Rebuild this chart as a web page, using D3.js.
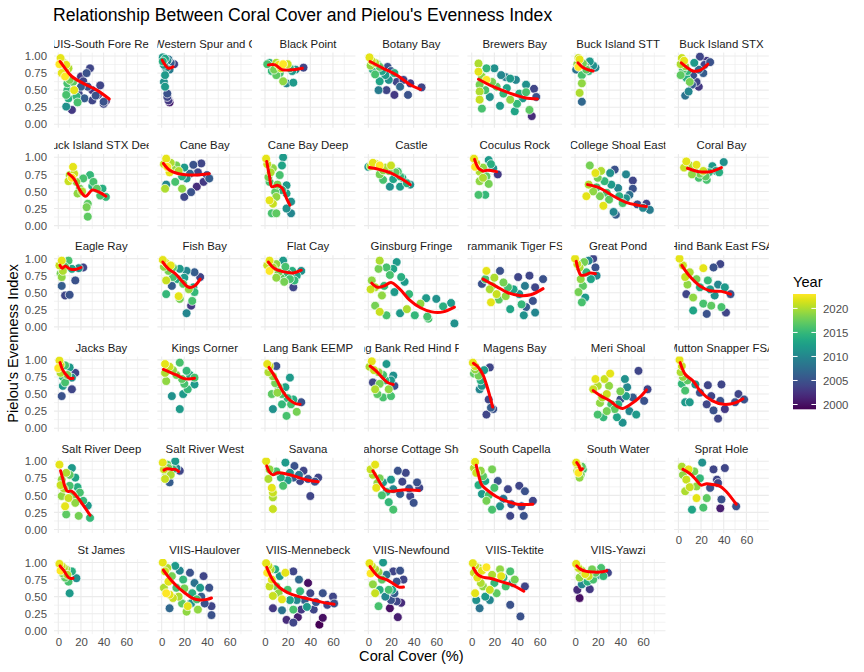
<!DOCTYPE html>
<html>
<head>
<meta charset="utf-8">
<script src="https://cdn.jsdelivr.net/npm/d3@7"></script>
<style>
body { margin: 0; background: #fff; }
text { font-family: "Liberation Sans", Arial, Helvetica, sans-serif; }
</style>
</head>
<body>
<div id="chart"></div>
<script>
// facet names, in the order the panels are laid out
var sites = ["BUIS-South Fore Reef", "BUIS-Western Spur and Groove", "Black Point", "Botany Bay", "Brewers Bay",
  "Buck Island STT", "Buck Island STX", "Buck Island STX Deep", "Cane Bay", "Cane Bay Deep", "Castle",
  "Coculus Rock", "College Shoal East", "Coral Bay", "Eagle Ray", "Fish Bay", "Flat Cay", "Ginsburg Fringe",
  "Grammanik Tiger FSA", "Great Pond", "Hind Bank East FSA", "Jacks Bay", "Kings Corner", "Lang Bank EEMP",
  "Lang Bank Red Hind FSA", "Magens Bay", "Meri Shoal", "Mutton Snapper FSA", "Salt River Deep",
  "Salt River West", "Savana", "Seahorse Cottage Shoal", "South Capella", "South Water", "Sprat Hole",
  "St James", "VIIS-Haulover", "VIIS-Mennebeck", "VIIS-Newfound", "VIIS-Tektite", "VIIS-Yawzi"];

// observations per site: [coral cover %, evenness, year]
var obs = [
  [[2,0.97,2022],[3,0.93,2021],[5,0.9,2020],[1,0.88,2023],[4,0.85,2019],[7,0.87,2022],[9,0.82,2020],[6,0.78,2021],[3,0.75,2022],[6,0.7,2023],[10,0.65,2018],[8,0.6,2016],[13,0.62,2017],[14,0.5,2022],[8,0.5,2015],[7,0.43,2016],[9,0.38,2014],[16,0.41,2015],[17,0.32,2016],[7,0.26,2011],[12,0.21,2003],[28,0.82,2004],[25,0.75,2005],[20,0.7,2003],[22,0.63,2004],[26,0.55,2005],[30,0.5,2003],[37,0.57,2004],[33,0.42,2005],[35,0.43,2003],[30,0.35,2004],[40,0.33,2005],[42,0.34,2002],[40,0.3,2004],[18,0.45,2004],[23,0.38,2006],[20,0.55,2006]],
  [[1,0.98,2012],[3,0.96,2013],[5,0.93,2010],[8,0.9,2006],[11,0.88,2004],[2,0.87,2012],[4,0.82,2011],[7,0.8,2009],[3,0.72,2012],[2,0.62,2011],[3,0.55,2012],[5,0.45,2005],[5,0.4,2004],[6,0.35,2003],[7,0.32,2001],[1,0.92,2014],[6,0.95,2008]],
  [[2,0.88,2016],[4,0.9,2014],[6,0.85,2013],[8,0.8,2018],[10,0.9,2020],[12,0.87,2022],[14,0.82,2021],[16,0.88,2023],[18,0.85,2019],[20,0.88,2021],[22,0.82,2015],[24,0.78,2012],[13,0.75,2016],[16,0.63,2019],[19,0.6,2010],[25,0.61,2012],[10,0.72,2017],[34,0.83,2004],[6,0.78,2015],[27,0.8,2011]],
  [[1,0.98,2022],[3,0.93,2021],[6,0.9,2020],[2,0.86,2019],[8,0.88,2016],[10,0.84,2017],[4,0.8,2014],[6,0.73,2016],[12,0.78,2013],[15,0.72,2012],[17,0.84,2005],[20,0.78,2006],[23,0.75,2014],[18,0.65,2011],[10,0.63,2013],[25,0.62,2004],[9,0.5,2009],[16,0.5,2004],[23,0.43,2003],[31,0.65,2004],[35,0.43,2005],[37,0.6,2003],[47,0.54,2004],[28,0.55,2007]],
  [[6,0.89,2020],[6,0.77,2022],[9,0.7,2019],[13,0.65,2023],[7,0.58,2018],[7,0.48,2020],[7,0.36,2021],[9,0.23,2016],[13,0.82,2015],[20,0.82,2011],[26,0.72,2010],[30,0.69,2009],[34,0.67,2012],[39,0.65,2010],[48,0.58,2011],[55,0.52,2004],[57,0.4,2005],[53,0.12,2002],[51,0.21,2017],[25,0.27,2012],[38,0.19,2013],[34,0.36,2019],[42,0.45,2014],[48,0.47,2016],[16,0.4,2011],[28,0.45,2015],[22,0.55,2017],[31,0.53,2013],[18,0.62,2018],[40,0.3,2015],[12,0.5,2016],[45,0.38,2012]],
  [[3,0.97,2021],[4,0.95,2022],[2,0.88,2019],[3,0.84,2023],[7,0.89,2018],[9,0.85,2016],[13,0.92,2012],[16,0.86,2011],[18,0.83,2010],[10,0.8,2017],[12,0.78,2015],[6,0.72,2016],[6,0.6,2019],[4,0.46,2020],[6,0.33,2007],[1,0.8,2008]],
  [[3,0.97,2021],[5,0.93,2022],[2,0.88,2020],[6,0.85,2019],[4,0.8,2016],[8,0.78,2015],[2,0.72,2017],[7,0.68,2014],[10,0.62,2018],[14,0.9,2012],[19,0.99,2004],[25,0.93,2003],[28,0.91,2005],[23,0.87,2004],[22,0.75,2006],[13,0.72,2005],[18,0.8,2007],[16,0.62,2004],[18,0.55,2003],[9,0.48,2010],[6,0.42,2008],[12,0.58,2006]],
  [[9,0.65,2021],[13,0.86,2022],[14,0.76,2021],[10,0.74,2020],[16,0.64,2019],[19,0.54,2018],[17,0.47,2019],[22,0.69,2016],[28,0.74,2015],[31,0.64,2016],[34,0.54,2017],[37,0.44,2016],[42,0.42,2015],[26,0.32,2017],[26,0.13,2017],[25,0.27,2018],[39,0.54,2014],[30,0.58,2014],[21,0.5,2020],[12,0.7,2023]],
  [[4,0.98,2022],[2,0.9,2021],[5,0.86,2023],[8,0.92,2020],[10,0.82,2019],[13,0.88,2018],[15,0.8,2020],[7,0.78,2022],[3,0.54,2020],[18,0.54,2019],[12,0.64,2016],[4,0.6,2010],[20,0.42,2004],[26,0.49,2005],[31,0.57,2002],[28,0.89,2005],[35,0.91,2004],[40,0.74,2005],[42,0.69,2006],[37,0.64,2003],[25,0.76,2007],[22,0.69,2011],[18,0.72,2014],[32,0.78,2004],[20,0.85,2012]],
  [[1,0.98,2022],[2,0.9,2021],[16,1.0,2012],[15,0.88,2013],[4,0.64,2016],[3,0.71,2018],[9,0.49,2017],[4,0.37,2022],[7,0.32,2021],[10,0.42,2019],[19,0.59,2012],[19,0.47,2013],[23,0.35,2011],[19,0.25,2011],[23,0.18,2010],[6,0.18,2016],[10,0.18,2017],[13,0.74,2016],[7,0.84,2019],[11,0.6,2018],[15,0.52,2014],[5,0.78,2020]],
  [[4,0.92,2022],[2,0.87,2020],[0,0.86,2012],[7,0.9,2021],[10,0.88,2023],[13,0.81,2019],[15,0.85,2020],[20,0.88,2021],[18,0.8,2018],[24,0.78,2017],[26,0.79,2016],[28,0.72,2015],[30,0.7,2014],[32,0.64,2012],[37,0.6,2011],[28,0.57,2012],[19,0.57,2011],[13,0.67,2016],[22,0.68,2013],[34,0.62,2014],[10,0.75,2018]],
  [[2,0.98,2022],[4,0.91,2021],[7,0.79,2020],[15,0.96,2012],[19,0.84,2011],[23,0.75,2003],[13,0.72,2017],[15,0.61,2018],[7,0.65,2019],[6,0.45,2016],[12,0.45,2015],[10,0.85,2019],[3,0.86,2023],[17,0.9,2014],[10,0.7,2020]],
  [[13,0.88,2018],[18,0.77,2022],[23,0.8,2020],[31,0.77,2011],[35,0.82,2005],[45,0.75,2010],[51,0.66,2004],[51,0.54,2005],[10,0.43,2022],[25,0.29,2022],[36,0.16,2006],[34,0.2,2010],[42,0.33,2016],[55,0.31,2005],[63,0.32,2004],[66,0.23,2009],[60,0.26,2010],[19,0.56,2016],[28,0.48,2016],[39,0.43,2014],[45,0.4,2011],[22,0.43,2018],[16,0.5,2019],[12,0.6,2020],[26,0.65,2015],[32,0.6,2012],[38,0.55,2010],[30,0.38,2017],[20,0.7,2018],[48,0.45,2008]],
  [[7,0.94,2022],[5,0.85,2021],[10,0.88,2020],[14,0.84,2019],[16,0.89,2022],[19,0.76,2018],[22,0.8,2021],[25,0.67,2016],[27,0.78,2015],[30,0.87,2012],[33,0.8,2013],[36,0.78,2014],[40,0.93,2011],[12,0.75,2019],[24,0.72,2017],[18,0.7,2016]],
  [[3,0.97,2022],[1,0.9,2021],[4,0.82,2020],[3,0.73,2019],[3,0.6,2006],[6,0.46,2004],[10,0.47,2005],[15,0.68,2005],[18,0.86,2011],[22,0.87,2004],[9,0.97,2016],[6,0.88,2017],[12,0.85,2013],[2,0.78,2018]],
  [[1,0.98,2022],[3,0.95,2021],[5,0.92,2020],[8,0.9,2022],[2,0.88,2019],[10,0.87,2017],[6,0.82,2018],[16,0.85,2012],[22,0.82,2010],[34,0.73,2004],[29,0.8,2006],[28,0.58,2013],[29,0.51,2015],[26,0.31,2003],[22,0.2,2010],[27,0.38,2016],[16,0.41,2018],[15,0.45,2022],[4,0.48,2015],[4,0.68,2021],[9,0.6,2006],[10,0.73,2016],[19,0.63,2017],[14,0.7,2014],[24,0.55,2019],[20,0.72,2012]],
  [[4,0.97,2022],[2,0.9,2021],[4,0.82,2023],[7,0.87,2020],[10,0.92,2019],[12,0.8,2018],[16,0.97,2012],[18,0.88,2016],[14,0.72,2017],[20,0.78,2015],[22,0.7,2016],[24,0.82,2014],[25,0.58,2004],[32,0.82,2011],[28,0.75,2013],[10,0.72,2019],[17,0.66,2018],[26,0.68,2015]],
  [[10,0.97,2020],[16,0.87,2016],[25,0.95,2012],[22,0.85,2013],[9,0.85,2018],[3,0.68,2019],[6,0.58,2020],[12,0.46,2019],[6,0.31,2018],[10,0.22,2021],[16,0.17,2016],[28,0.2,2012],[34,0.26,2020],[41,0.17,2015],[46,0.34,2019],[51,0.42,2012],[53,0.12,2016],[60,0.41,2011],[32,0.66,2012],[23,0.51,2012],[29,0.73,2014],[19,0.76,2016],[52,0.15,2016],[73,0.35,2012],[76,0.05,2011],[2,0.55,2021],[14,0.6,2015],[36,0.48,2015],[66,0.3,2014]],
  [[13,0.82,2022],[17,0.36,2022],[9,0.63,2005],[25,0.82,2005],[51,0.75,2004],[63,0.7,2005],[56,0.58,2004],[56,0.21,2010],[46,0.17,2011],[44,0.33,2015],[34,0.26,2013],[42,0.48,2011],[32,0.58,2016],[22,0.48,2021],[18,0.6,2019],[41,0.73,2004],[54,0.38,2005],[48,0.29,2006],[20,0.72,2020],[28,0.65,2018],[37,0.55,2013],[24,0.4,2017],[30,0.45,2019],[16,0.55,2020],[12,0.7,2016],[47,0.6,2009]],
  [[0,1.0,2022],[2,0.92,2021],[4,0.87,2020],[8,0.95,2018],[12,0.97,2010],[16,1.0,2004],[18,0.87,2005],[19,0.75,2010],[7,0.6,2017],[9,0.43,2012],[6,0.36,2016],[3,0.51,2018],[10,0.8,2015],[14,0.7,2013],[5,0.7,2019]],
  [[1,1.0,2022],[4,0.9,2021],[22,0.86,2022],[37,0.92,2004],[31,0.87,2005],[41,0.58,2012],[46,0.48,2005],[42,0.21,2004],[7,0.48,2004],[13,0.24,2013],[22,0.34,2016],[29,0.31,2017],[38,0.29,2016],[25,0.19,2005],[32,0.46,2011],[19,0.58,2014],[13,0.43,2019],[6,0.73,2021],[10,0.8,2020],[16,0.7,2018],[26,0.68,2015],[35,0.62,2010],[8,0.62,2019],[28,0.55,2012]],
  [[1,0.99,2022],[2,0.93,2021],[0,0.88,2023],[2,0.81,2020],[6,0.92,2016],[10,0.89,2012],[12,0.74,2011],[15,0.81,2004],[12,0.57,2004],[3,0.47,2005],[6,0.67,2016],[4,0.62,2012],[8,0.78,2018],[4,0.75,2015]],
  [[3,0.94,2022],[3,0.81,2020],[7,0.9,2021],[10,0.85,2019],[13,0.78,2018],[16,0.96,2016],[22,0.84,2015],[29,0.74,2016],[29,0.64,2012],[23,0.57,2015],[19,0.5,2012],[9,0.47,2011],[16,0.28,2012],[4,0.69,2019],[18,0.72,2017],[25,0.78,2014],[20,0.65,2016]],
  [[2,0.94,2022],[4,0.91,2021],[10,0.91,2005],[3,0.82,2020],[7,0.76,2019],[9,0.66,2018],[12,0.6,2017],[6,0.5,2017],[7,0.28,2011],[19,0.18,2016],[28,0.24,2018],[32,0.38,2005],[23,0.35,2016],[15,0.35,2015],[22,0.74,2012],[18,0.6,2013],[15,0.5,2016],[20,0.44,2015],[11,0.52,2019],[25,0.42,2014]],
  [[3,0.98,2022],[1,0.9,2020],[5,0.85,2021],[9,0.82,2019],[16,0.94,2012],[13,0.78,2016],[22,0.77,2011],[23,0.62,2005],[4,0.67,2004],[13,0.45,2016],[20,0.47,2016],[6,0.57,2020],[18,0.57,2019],[10,0.65,2018],[15,0.7,2015],[8,0.5,2017],[20,0.7,2012]],
  [[1,0.96,2022],[3,0.91,2021],[3,0.86,2019],[6,0.77,2018],[16,0.89,2004],[9,0.62,2011],[7,0.57,2010],[15,0.42,2004],[19,0.28,2005],[13,0.2,2004],[17,0.3,2006],[5,0.82,2016],[8,0.7,2014],[2,0.8,2017],[11,0.85,2012]],
  [[18,0.72,2022],[31,0.8,2022],[26,0.72,2021],[16,0.57,2021],[44,0.72,2011],[56,0.84,2004],[64,0.57,2004],[61,0.4,2005],[51,0.45,2006],[40,0.42,2005],[20,0.2,2016],[25,0.16,2015],[42,0.08,2011],[37,0.16,2013],[54,0.2,2012],[48,0.25,2010],[32,0.35,2016],[22,0.37,2019],[40,0.54,2018],[45,0.47,2012],[28,0.5,2021],[30,0.62,2019],[35,0.28,2017],[24,0.45,2020],[38,0.35,2014],[20,0.62,2020],[46,0.6,2010],[28,0.25,2018]],
  [[1,1.0,2022],[3,0.91,2021],[2,0.82,2020],[4,0.75,2019],[6,0.55,2016],[6,0.38,2012],[10,0.38,2012],[15,0.64,2011],[26,0.63,2004],[38,0.64,2004],[29,0.47,2004],[37,0.4,2005],[53,0.5,2004],[58,0.42,2005],[25,0.35,2004],[31,0.26,2005],[35,0.14,2004],[41,0.28,2003],[50,0.38,2005],[19,0.52,2005],[3,0.65,2015],[8,0.7,2017]],
  [[1,0.95,2022],[7,0.83,2020],[3,0.73,2019],[12,0.9,2012],[15,0.76,2013],[10,0.64,2016],[3,0.49,2019],[6,0.34,2022],[7,0.22,2017],[18,0.2,2018],[26,0.35,2012],[28,0.17,2015],[19,0.54,2016],[15,0.39,2019],[9,0.46,2021],[5,0.6,2020],[13,0.5,2018],[22,0.42,2015],[2,0.65,2021],[17,0.62,2014],[10,0.8,2017]],
  [[1,0.98,2022],[3,0.74,2021],[12,1.0,2012],[16,0.86,2004],[7,0.69,2006],[4,0.83,2019],[6,0.9,2018],[10,0.88,2015],[8,0.8,2020],[2,0.88,2021],[13,0.9,2010],[5,0.95,2017]],
  [[1,1.0,2022],[18,0.98,2012],[26,0.93,2005],[34,0.86,2004],[47,0.76,2004],[40,0.49,2004],[22,0.83,2011],[16,0.64,2016],[3,0.74,2020],[6,0.61,2022],[7,0.54,2021],[7,0.47,2020],[7,0.3,2021],[31,0.71,2004],[25,0.76,2006],[10,0.85,2016],[14,0.76,2014],[20,0.72,2012],[4,0.88,2019],[38,0.74,2005],[30,0.8,2008],[44,0.7,2005]],
  [[2,0.88,2021],[6,0.95,2022],[4,0.8,2020],[7,0.61,2022],[10,0.75,2018],[26,0.86,2005],[33,0.83,2004],[43,0.69,2005],[45,0.61,2004],[22,0.29,2016],[13,0.69,2012],[37,0.49,2004],[40,0.39,2005],[28,0.52,2006],[22,0.59,2010],[16,0.55,2014],[12,0.5,2016],[18,0.4,2015],[30,0.7,2004],[36,0.6,2005],[8,0.68,2019],[20,0.73,2012]],
  [[3,0.99,2022],[4,0.83,2021],[2,0.9,2020],[8,0.86,2019],[18,0.88,2018],[20,0.61,2016],[9,0.52,2012],[13,0.42,2018],[23,0.71,2005],[32,0.59,2004],[42,0.64,2004],[47,0.56,2005],[54,0.42,2004],[46,0.2,2005],[34,0.2,2004],[35,0.37,2005],[44,0.34,2004],[18,0.29,2016],[25,0.34,2011],[12,0.71,2013],[6,0.65,2014],[15,0.5,2016],[28,0.45,2008],[10,0.78,2017]],
  [[1,0.98,2022],[3,0.9,2021],[2,0.86,2020],[3,0.83,2023],[4,0.76,2019],[6,0.92,2017],[7,0.88,2016],[5,0.8,2018],[2,0.95,2021]],
  [[9,0.88,2022],[7,0.73,2021],[3,0.92,2020],[14,0.85,2018],[21,0.98,2011],[31,0.88,2004],[41,0.9,2004],[34,0.73,2004],[38,0.44,2005],[51,0.34,2005],[37,0.31,2001],[12,0.29,2013],[22,0.32,2016],[25,0.46,2017],[16,0.46,2022],[6,0.56,2020],[16,0.63,2019],[28,0.61,2005],[35,0.68,2004],[10,0.62,2021],[19,0.75,2015],[4,0.8,2019]],
  [[1,0.98,2022],[3,0.95,2021],[5,0.92,2020],[2,0.88,2023],[7,0.9,2019],[4,0.84,2018],[8,0.82,2020],[9,0.72,2016],[16,0.77,2011],[10,0.55,2012],[12,0.87,2014],[6,0.78,2017]],
  [[1,1.0,2022],[3,0.87,2021],[6,0.72,2022],[4,0.55,2023],[7,0.53,2022],[2,0.63,2020],[10,0.48,2021],[23,0.36,2022],[22,0.28,2019],[32,0.31,2019],[31,0.46,2016],[34,0.63,2012],[37,0.8,2004],[25,0.85,2005],[42,0.63,2005],[44,0.36,2004],[44,0.23,2005],[7,0.33,2007],[13,0.63,2016],[19,0.75,2015],[9,0.8,2018],[15,0.5,2020],[18,0.4,2017],[27,0.55,2014],[29,0.7,2008],[12,0.95,2012],[5,0.92,2020],[35,0.5,2006],[20,0.62,2018],[26,0.4,2011],[38,0.4,2005],[16,0.88,2010]],
  [[1,0.99,2022],[3,0.95,2021],[5,0.9,2020],[2,0.85,2023],[6,0.75,2022],[7,0.51,2021],[15,0.46,2022],[7,0.33,2003],[19,0.16,2002],[25,0.12,2004],[29,0.2,2001],[32,0.31,2003],[38,0.7,2000],[40,0.55,2004],[51,0.55,2005],[60,0.5,2004],[61,0.4,2005],[51,0.19,2000],[48,0.09,1999],[43,0.31,2004],[25,0.87,2004],[18,0.85,2022],[25,0.31,2016],[31,0.58,2015],[10,0.65,2018],[13,0.8,2012],[20,0.6,2016],[22,0.45,2013],[28,0.45,2010],[35,0.45,2006],[45,0.42,2005],[55,0.38,2004],[15,0.3,2008],[9,0.9,2014],[12,0.55,2019],[30,0.75,2007],[4,0.65,2021],[37,0.35,2012]],
  [[1,0.99,2022],[3,0.95,2021],[6,0.9,2020],[2,0.84,2023],[9,0.86,2019],[13,1.0,2012],[22,0.87,2004],[28,0.88,2005],[31,0.75,2004],[25,0.72,2005],[21,0.6,2013],[18,0.6,2016],[9,0.36,2016],[25,0.43,2004],[29,0.41,2002],[26,0.2,2001],[19,0.33,2000],[4,0.68,2019],[6,0.55,2021],[12,0.75,2017],[15,0.5,2010],[20,0.45,2005],[10,0.6,2014],[16,0.82,2008],[23,0.55,2006]],
  [[1,0.99,2022],[3,0.95,2021],[6,0.92,2020],[9,0.88,2022],[13,0.93,2023],[2,0.85,2021],[5,0.78,2022],[8,0.7,2020],[3,0.55,2022],[16,0.6,2021],[26,0.8,2022],[34,0.87,2016],[38,0.75,2018],[25,0.9,2019],[47,0.65,2004],[34,0.38,2005],[43,0.21,2005],[7,0.33,2008],[16,0.45,2010],[12,0.5,2012],[20,0.7,2015],[30,0.65,2016],[10,0.65,2019],[22,0.55,2017],[28,0.78,2014],[18,0.82,2020],[4,0.45,2011],[36,0.7,2012]],
  [[1,0.98,2022],[3,0.92,2021],[6,0.88,2020],[9,0.83,2022],[12,0.8,2021],[4,0.78,2019],[15,0.9,2018],[18,0.85,2017],[23,0.92,2016],[21,0.82,2012],[29,0.85,2004],[4,0.48,2000],[2,0.6,2002],[13,0.61,2003],[8,0.7,2008],[25,0.8,2015],[11,0.72,2014],[16,0.75,2016],[6,0.68,2010]]
];

// fitted smooth per site: [coral cover %, evenness]
var smooth = [
  [[1.5,0.92],[6,0.82],[12,0.7],[22,0.6],[34,0.5],[45,0.37]],
  [[0.5,0.94],[3,0.87],[6,0.82],[10,0.84]],
  [[3,0.87],[9,0.87],[15,0.8],[25,0.8],[33,0.82]],
  [[1.5,0.92],[13,0.82],[25,0.72],[37,0.58],[46,0.51]],
  [[6,0.66],[19,0.55],[33,0.46],[47,0.39],[58,0.37]],
  [[2.5,0.9],[7,0.83],[11,0.8],[16,0.78]],
  [[2.5,0.9],[7,0.84],[13,0.78],[19,0.79],[26,0.88]],
  [[9,0.76],[14,0.68],[19,0.52],[24,0.43],[30,0.52],[36,0.49],[42,0.43]],
  [[1.5,0.91],[7,0.81],[15,0.76],[28,0.74],[42,0.76]],
  [[1.5,0.94],[4,0.72],[6,0.57],[11,0.59],[15,0.55],[19,0.4],[22,0.3]],
  [[1,0.85],[10,0.82],[20,0.77],[30,0.68],[37,0.6]],
  [[2.5,0.97],[6,0.84],[10,0.8],[14,0.81],[22,0.79]],
  [[11,0.6],[22,0.55],[33,0.44],[45,0.34],[55,0.3],[63,0.28]],
  [[8,0.84],[18,0.79],[28,0.79],[38,0.85]],
  [[1.5,0.9],[3.5,0.86],[6,0.89],[10,0.85],[15,0.84],[20,0.87]],
  [[1,0.95],[6,0.85],[12,0.78],[18,0.67],[24,0.58],[29,0.6],[34,0.7]],
  [[3,0.95],[8,0.86],[16,0.81],[25,0.79],[32,0.83]],
  [[3,0.64],[8,0.58],[14,0.6],[20,0.65],[28,0.55],[36,0.4],[46,0.28],[56,0.22],[66,0.22],[76,0.29]],
  [[10,0.7],[22,0.59],[32,0.5],[42,0.46],[52,0.47],[63,0.56]],
  [[1,0.96],[3,0.83],[5,0.76],[9,0.76],[13,0.79],[18,0.78]],
  [[3,0.9],[10,0.74],[19,0.6],[28,0.53],[38,0.52],[46,0.48]],
  [[1.5,0.96],[4,0.85],[7,0.78],[10,0.73],[13,0.73]],
  [[1.5,0.86],[7,0.82],[13,0.78],[19,0.73],[24,0.72],[29,0.73]],
  [[3.5,0.89],[10,0.72],[16,0.53],[22,0.41],[27,0.36],[31,0.35]],
  [[1.5,0.91],[6,0.85],[9,0.8],[13,0.73],[17,0.67],[22,0.64]],
  [[1.5,0.95],[6,0.89],[10,0.78],[13,0.64],[16,0.47],[18.5,0.31]],
  [[16,0.55],[23,0.47],[30,0.41],[37,0.32],[42,0.29],[50,0.36],[57,0.45],[63,0.56]],
  [[1.5,0.96],[6,0.79],[13,0.69],[20,0.53],[30,0.4],[40,0.35],[50,0.37],[57,0.43]],
  [[2,0.86],[4,0.74],[6,0.62],[8,0.56],[12,0.56],[16,0.49],[21,0.38],[28,0.21]],
  [[2,0.87],[5,0.89],[9,0.88],[12,0.88],[15,0.85]],
  [[1.5,0.93],[4,0.84],[7,0.8],[11,0.83],[20,0.81],[30,0.76],[38,0.72],[47,0.7]],
  [[4,0.86],[8,0.75],[12,0.64],[16,0.57],[22,0.56],[30,0.58],[38,0.58],[45,0.57]],
  [[4,0.94],[6,0.8],[9,0.65],[15,0.56],[22,0.48],[30,0.42],[40,0.37],[54,0.37]],
  [[1.5,0.98],[3.5,0.93],[5,0.87],[6.5,0.89]],
  [[4,0.88],[10,0.82],[15,0.74],[20,0.65],[25,0.67],[30,0.66],[36,0.64],[42,0.56],[51,0.37]],
  [[1.5,0.95],[5,0.88],[8,0.8],[10,0.77],[13,0.77]],
  [[1.5,0.89],[7,0.77],[13,0.66],[20,0.56],[27,0.48],[34,0.45],[40,0.46],[44,0.48]],
  [[1.5,0.93],[7,0.74],[13,0.63],[20,0.56],[30,0.5],[40,0.46],[50,0.42],[61,0.39]],
  [[1.5,0.94],[5,0.86],[9,0.79],[16,0.75],[22,0.69],[27,0.64],[31,0.64]],
  [[1.5,0.92],[5,0.83],[9,0.79],[16,0.77],[26,0.72],[36,0.67],[46,0.58]],
  [[1.5,0.95],[5,0.9],[10,0.87],[16,0.86],[22,0.86],[28,0.88]]
];

var xTicks = [0, 20, 40, 60];
var xMinor = [10, 30, 50, 70];
var yTicks = [0, 0.25, 0.5, 0.75, 1];
var yMinor = [0.125, 0.375, 0.625, 0.875];
var legendYears = [2000, 2005, 2010, 2015, 2020];
var yearRange = [1999, 2023];

var W = 864, H = 672;
var margin = {left: 54, top: 52.6};
var panelW = 94.7, panelH = 75.1, colStep = 103.35, rowStep = 101.3, nCol = 7;
var gridCol = "#ebebeb";

var x = d3.scaleLinear().domain([-3.8, 79.8]).range([0, panelW]);
var y = d3.scaleLinear().domain([-0.05, 1.05]).range([panelH, 0]);
var color = d3.scaleSequential(d3.interpolateViridis).domain(yearRange);

var svg = d3.select("#chart").append("svg")
    .attr("width", W)
    .attr("height", H);
var defs = svg.append("defs");

svg.append("text")
   .attr("x", 53)
   .attr("y", 21)
   .attr("font-size", "17.6px")
   .attr("fill", "#000")
   .text("Relationship Between Coral Cover and Pielou's Evenness Index");

var line = d3.line()
    .x(function(d) {return x(d[0]);})
    .y(function(d) {return y(d[1]);})
    .curve(d3.curveCatmullRom.alpha(0.5));

function styleAxis(ax) {
    ax.select(".domain").remove();
    ax.attr("font-family", null).attr("font-size", null);
    ax.selectAll("text")
      .attr("font-size", "11.4px")
      .attr("fill", "#4d4d4d");
}

// strip labels are centred and clipped to the panel, as ggplot does;
// glyphs lying wholly outside the strip are dropped so labels don't spill over
function stripLabel(g, name, i) {
    var t = g.append("g")
             .attr("clip-path", "url(#strip" + i + ")")
             .append("text")
             .attr("y", -5)
             .attr("font-size", "11.4px")
             .attr("fill", "#1a1a1a")
             .text(name);
    var node = t.node();
    var full = node.getComputedTextLength();
    var x0 = panelW / 2 - full / 2;
    t.attr("x", x0);
    if (full <= panelW) return;
    var n = name.length, a = 0, b = n - 1;
    while (a < n && node.getEndPositionOfChar(a).x <= 0) a++;
    while (b > a && node.getStartPositionOfChar(b).x >= panelW) b--;
    var startX = node.getStartPositionOfChar(a).x;
    t.attr("x", startX).text(name.slice(a, b + 1));
}

sites.forEach(function(name, i) {
    var col = i % nCol, row = Math.floor(i / nCol);
    var g = svg.append("g")
               .attr("transform", "translate(" + (margin.left + col * colStep) + "," + (margin.top + row * rowStep) + ")");

    defs.append("clipPath").attr("id", "panel" + i)
        .append("rect").attr("width", panelW).attr("height", panelH);
    defs.append("clipPath").attr("id", "strip" + i)
        .append("rect").attr("y", -22).attr("width", panelW).attr("height", 22);

    // grid: minor first, then major
    g.selectAll("line.xminor").data(xMinor).enter().append("line")
     .attr("x1", function(d) {return x(d);}).attr("x2", function(d) {return x(d);})
     .attr("y1", 0).attr("y2", panelH)
     .attr("stroke", gridCol).attr("stroke-width", 0.6);
    g.selectAll("line.yminor").data(yMinor).enter().append("line")
     .attr("y1", function(d) {return y(d);}).attr("y2", function(d) {return y(d);})
     .attr("x1", 0).attr("x2", panelW)
     .attr("stroke", gridCol).attr("stroke-width", 0.6);
    g.selectAll("line.xmajor").data(xTicks).enter().append("line")
     .attr("x1", function(d) {return x(d);}).attr("x2", function(d) {return x(d);})
     .attr("y1", 0).attr("y2", panelH)
     .attr("stroke", gridCol).attr("stroke-width", 1.1);
    g.selectAll("line.ymajor").data(yTicks).enter().append("line")
     .attr("y1", function(d) {return y(d);}).attr("y2", function(d) {return y(d);})
     .attr("x1", 0).attr("x2", panelW)
     .attr("stroke", gridCol).attr("stroke-width", 1.1);

    // points, older years underneath
    var pts = obs[i].slice().sort(function(a, b) {return a[2] - b[2];});
    g.append("g")
     .attr("clip-path", "url(#panel" + i + ")")
     .selectAll("circle")
     .data(pts)
     .enter()
     .append("circle")
     .attr("cx", function(d) {return x(d[0]);})
     .attr("cy", function(d) {return y(d[1]);})
     .attr("r", 4.4)
     .attr("fill", function(d) {return color(d[2]);})
     .attr("stroke", "#fff")
     .attr("stroke-width", 0.7);

    g.append("path")
     .attr("d", line(smooth[i]))
     .attr("fill", "none")
     .attr("stroke", "#ff0000")
     .attr("stroke-width", 3)
     .attr("stroke-linecap", "round");

    stripLabel(g, name, i);

    if (col === 0) {
        var ya = g.append("g")
                  .call(d3.axisLeft(y).tickValues(yTicks).tickSize(0).tickPadding(7).tickFormat(d3.format(".2f")));
        styleAxis(ya);
    }
    if (i + nCol >= sites.length) {
        var xa = g.append("g")
                  .attr("transform", "translate(0," + panelH + ")")
                  .call(d3.axisBottom(x).tickValues(xTicks).tickSize(0).tickPadding(3.3));
        styleAxis(xa);
    }
});

// axis titles
var plotRight = margin.left + (nCol - 1) * colStep + panelW;
svg.append("text")
   .attr("x", (margin.left + plotRight) / 2)
   .attr("y", 661)
   .attr("text-anchor", "middle")
   .attr("font-size", "14.6px")
   .attr("fill", "#000")
   .text("Coral Cover (%)");

var plotBottom = margin.top + 5 * rowStep + panelH;
svg.append("text")
   .attr("transform", "translate(18," + ((margin.top + plotBottom) / 2) + ") rotate(-90)")
   .attr("text-anchor", "middle")
   .attr("font-size", "14.6px")
   .attr("fill", "#000")
   .text("Pielou's Evenness Index");

// colour bar legend
var bar = {x: 793, y: 294, w: 23, h: 115.3};
var legendScale = d3.scaleLinear().domain(yearRange).range([bar.y + bar.h, bar.y]);

var grad = defs.append("linearGradient")
    .attr("id", "yearGrad")
    .attr("x1", "0").attr("y1", "1").attr("x2", "0").attr("y2", "0");
grad.selectAll("stop")
    .data(d3.range(0, 1.0001, 0.05))
    .enter()
    .append("stop")
    .attr("offset", function(d) {return d;})
    .attr("stop-color", function(d) {return color(yearRange[0] + d * (yearRange[1] - yearRange[0]));});

svg.append("text")
   .attr("x", 793)
   .attr("y", 286.5)
   .attr("font-size", "14.6px")
   .attr("fill", "#000")
   .text("Year");

svg.append("rect")
   .attr("x", bar.x).attr("y", bar.y)
   .attr("width", bar.w).attr("height", bar.h)
   .attr("fill", "url(#yearGrad)");

var lg = svg.append("g");
lg.selectAll("line.tl").data(legendYears).enter().append("line")
  .attr("x1", bar.x).attr("x2", bar.x + bar.w / 5)
  .attr("y1", function(d) {return legendScale(d);}).attr("y2", function(d) {return legendScale(d);})
  .attr("stroke", "#fff").attr("stroke-width", 1);
lg.selectAll("line.tr").data(legendYears).enter().append("line")
  .attr("x1", bar.x + bar.w * 4 / 5).attr("x2", bar.x + bar.w)
  .attr("y1", function(d) {return legendScale(d);}).attr("y2", function(d) {return legendScale(d);})
  .attr("stroke", "#fff").attr("stroke-width", 1);

var la = svg.append("g")
    .attr("transform", "translate(" + (bar.x + bar.w) + ",0)")
    .call(d3.axisRight(legendScale).tickValues(legendYears).tickSize(0).tickPadding(7).tickFormat(d3.format("d")));
styleAxis(la);
</script>
</body>
</html>
